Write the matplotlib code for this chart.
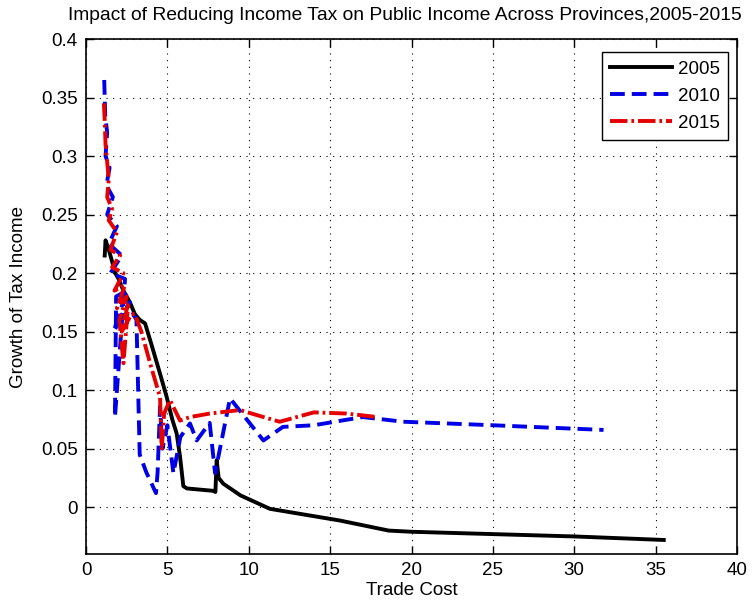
import matplotlib
matplotlib.use("Agg")
import matplotlib.pyplot as plt

plt.rcParams['font.family'] = ['Liberation Sans', 'DejaVu Sans']

# Growth of tax income by trade cost, per year (provinces in sample order)
cost_2005 = [1.15, 1.2, 1.4, 1.6, 1.8, 2.0, 2.3, 2.7, 3.0, 3.3, 3.63, 4.0, 4.55, 4.96,
             5.3, 5.57, 5.78, 5.98, 6.2, 7.8, 7.95, 8.03, 8.15, 8.44, 9.5, 11.3, 15.6,
             18.6, 20.0, 25.0, 30.0, 35.5]
growth_2005 = [0.215, 0.228, 0.22, 0.21, 0.2, 0.195, 0.185, 0.175, 0.165, 0.16, 0.157,
               0.14, 0.114, 0.094, 0.075, 0.063, 0.043, 0.018, 0.016, 0.014, 0.013,
               0.04, 0.025, 0.02, 0.01, -0.0014, -0.0114, -0.02, -0.021, -0.023,
               -0.025, -0.028]

cost_2010 = [1.12, 1.18, 1.3, 1.2, 1.45, 1.25, 1.65, 1.3, 1.9, 1.4, 2.2, 1.5, 2.4,
             1.78, 1.85, 2.5, 1.7, 2.7, 2.0, 2.9, 3.1, 3.3, 3.7, 4.3, 4.4, 4.55, 4.7,
             5.0, 5.37, 5.8, 6.39, 6.8, 7.6, 7.93, 8.85, 10.9, 12.1, 14.0, 17.0, 19.5,
             25.0, 31.8]
growth_2010 = [0.365, 0.335, 0.32, 0.30, 0.29, 0.275, 0.265, 0.25, 0.24, 0.225, 0.215,
               0.20, 0.195, 0.077, 0.18, 0.185, 0.15, 0.175, 0.16, 0.165, 0.16, 0.045,
               0.03, 0.012, 0.03, 0.086, 0.05, 0.07, 0.029, 0.06, 0.0715, 0.057, 0.072,
               0.029, 0.093, 0.057, 0.0686, 0.070, 0.077, 0.073, 0.070, 0.066]

cost_2015 = [1.1, 1.15, 1.2, 1.3, 1.4, 1.3, 1.6, 1.4, 1.9, 1.5, 2.1, 1.6, 2.3, 1.75,
             2.4, 1.9, 2.5, 2.05, 2.3, 2.6, 2.2, 2.8, 3.0, 3.4, 4.0, 4.55, 4.65, 4.8,
             5.16, 5.78, 6.39, 7.6, 9.46, 10.9, 11.9, 14.0, 16.0, 17.9]
growth_2015 = [0.345, 0.33, 0.31, 0.295, 0.28, 0.265, 0.255, 0.245, 0.235, 0.22, 0.215,
               0.205, 0.20, 0.185, 0.19, 0.17, 0.18, 0.16, 0.123, 0.175, 0.15, 0.165,
               0.165, 0.15, 0.12, 0.094, 0.0486, 0.08, 0.0915, 0.074, 0.077, 0.080,
               0.083, 0.077, 0.073, 0.081, 0.080, 0.077]

years = ['2005', '2010', '2015']
x_ticks = [0, 5, 10, 15, 20, 25, 30, 35, 40]
y_ticks = [0, 0.05, 0.1, 0.15, 0.2, 0.25, 0.3, 0.35, 0.4]
y_tick_labels = ['0', '0.05', '0.1', '0.15', '0.2', '0.25', '0.3', '0.35', '0.4']

W, H = 753, 608
fig = plt.figure(figsize=(W / 100, H / 100), dpi=100)
ax = fig.add_axes([86 / W, 1 - 554 / H, 651 / W, 515 / H])

lw = 2.8
ax.plot(cost_2005, growth_2005, color='black', lw=lw, ls='-', label=years[0])
ax.plot(cost_2010, growth_2010, color='#0000e6', lw=lw, ls=(0, (3.8, 1.8)),
        dash_capstyle='butt', label=years[1])
ax.plot(cost_2015, growth_2015, color='#e60000', lw=lw, ls=(0, (4.5, 1.0, 0.7, 1.0)),
        dash_capstyle='butt', label=years[2])

ax.set_xlim(0, 40)
ax.set_ylim(-0.04, 0.4)
ax.set_xticks(x_ticks)
ax.set_yticks(y_ticks)
ax.set_xticklabels([str(v) for v in x_ticks])
ax.set_yticklabels(y_tick_labels)
ax.tick_params(direction='in', length=6, width=1, top=True, right=True,
               labelsize=13.5, pad=6, colors='black')
for s in ax.spines.values():
    s.set_linewidth(1.2)
ax.grid(True, color='black', ls=(0, (1, 5)), lw=0.8)

ax.set_xlabel('Trade Cost', fontsize=13.5, labelpad=2)
ax.set_ylabel('Growth of Tax Income', fontsize=13.5, labelpad=10)
fig.text(405 / W, 1 - 16 / H,
         'Impact of Reducing Income Tax on Public Income Across Provinces,2005-2015',
         fontsize=13.85, ha='center', va='center')

leg = ax.legend(loc='upper right', bbox_to_anchor=(728 / W, 1 - 52 / H),
                bbox_transform=fig.transFigure, fontsize=13.5, fancybox=False,
                edgecolor='black', framealpha=1, handlelength=3.3, handletextpad=0.3,
                labelspacing=0.53, borderpad=0.45, borderaxespad=0)
leg.get_frame().set_linewidth(1.0)

fig.savefig('out.png', dpi=100)
